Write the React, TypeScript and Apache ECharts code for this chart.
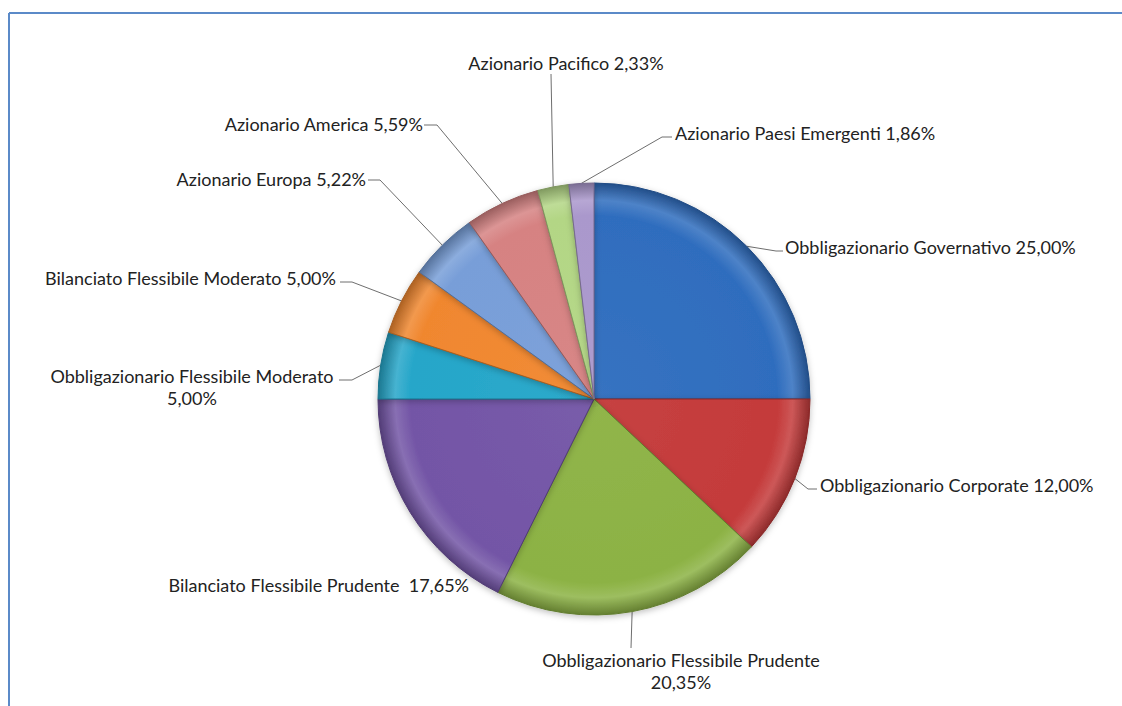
import React, { useEffect, useRef } from "react";
import * as echarts from "echarts";

const names = [
  "Obbligazionario Governativo",
  "Obbligazionario Corporate",
  "Obbligazionario Flessibile Prudente",
  "Bilanciato Flessibile Prudente",
  "Obbligazionario Flessibile Moderato",
  "Bilanciato Flessibile Moderato",
  "Azionario Europa",
  "Azionario America",
  "Azionario Pacifico",
  "Azionario Paesi Emergenti",
];
const values = [25.0, 12.0, 20.35, 17.65, 5.0, 5.0, 5.22, 5.59, 2.33, 1.86];
const colors = [
  "#2f6dbe",
  "#c43a3a",
  "#8cb244",
  "#7355a6",
  "#25a6c9",
  "#f0872f",
  "#789ed8",
  "#d68282",
  "#b3d685",
  "#aa98cc",
];
// label separator style: 0 = one line, 1 = two lines, 2 = double space
const labelStyle = [0, 0, 1, 2, 1, 0, 0, 0, 0, 0];

// layout of labels (page pixels): text anchor, alignment, leader elbow & end
const CX = 594;
const CY = 399;
const R = 216;
const labelLayoutTable = [
  { x: 785, y: 247, align: "left", elbow: [776, 251], end: [783, 251] },
  { x: 820, y: 485, align: "left", elbow: [808, 489], end: [817, 489] },
  { x: 681, y: 671, align: "center", elbow: [631, 648], end: [631, 648] },
  { x: 469, y: 585, align: "right", elbow: null, end: null },
  { x: 192, y: 387, align: "center", elbow: [352, 380], end: [339, 380] },
  { x: 336, y: 278, align: "right", elbow: [352, 282], end: [340, 282] },
  { x: 366, y: 179, align: "right", elbow: [380, 180], end: [368, 180] },
  { x: 423, y: 124, align: "right", elbow: [437, 125], end: [424, 125] },
  { x: 566, y: 63, align: "center", elbow: [551, 74], end: [551, 74] },
  { x: 675, y: 133, align: "left", elbow: [662, 137], end: [672, 137] },
];

function fmt(v: number) {
  return v.toFixed(2).replace(".", ",") + "%";
}

function shade(hex: string, f: number) {
  const n = parseInt(hex.slice(1), 16);
  let r = (n >> 16) & 255, g = (n >> 8) & 255, b = n & 255;
  if (f >= 0) {
    r = r + (255 - r) * f; g = g + (255 - g) * f; b = b + (255 - b) * f;
  } else {
    r = r * (1 + f); g = g * (1 + f); b = b * (1 + f);
  }
  return `rgb(${Math.round(r)},${Math.round(g)},${Math.round(b)})`;
}

export default function App() {
  const ref = useRef<HTMLDivElement>(null);
  useEffect(() => {
    if (!ref.current) return;
    const chart = echarts.init(ref.current, null, { renderer: "svg" });
    const total = values.reduce((a, b) => a + b, 0);
    const starts: number[] = [];
    let acc = 0;
    values.forEach((v) => { starts.push(acc); acc += v; });

    const data = names.map((n, i) => {
      const sep = labelStyle[i] === 1 ? "\n" : labelStyle[i] === 2 ? "  " : " ";
      const c = colors[i];
      return {
        name: n,
        value: values[i],
        labelText: n + sep + fmt(values[i]),
        itemStyle: {
          color: {
            type: "radial",
            x: CX,
            y: CY,
            r: R,
            global: true,
            colorStops: [
              { offset: 0, color: shade(c, 0.04) },
              { offset: 0.85, color: c },
              { offset: 0.92, color: shade(c, 0.15) },
              { offset: 1, color: shade(c, -0.28) },
            ],
          },
          borderColor: shade(c, -0.3),
          borderWidth: 1,
        },
        labelLine: { show: labelLayoutTable[i].end !== null },
      };
    });

    chart.setOption({
      animation: false,
      backgroundColor: "#ffffff",
      graphic: [
        {
          type: "line",
          shape: { x1: 9, y1: 13, x2: 1122, y2: 13 },
          style: { stroke: "#5b8ac8", lineWidth: 2 },
        },
        {
          type: "line",
          shape: { x1: 9, y1: 13, x2: 9, y2: 706 },
          style: { stroke: "#5b8ac8", lineWidth: 2 },
        },
      ],
      series: [
        {
          type: "pie",
          center: [CX, CY],
          radius: R,
          startAngle: 90,
          clockwise: true,
          data,
          itemStyle: {
            shadowBlur: 6,
            shadowColor: "rgba(0,0,0,0.25)",
            shadowOffsetY: 2,
          },
          label: {
            show: true,
            position: "outside",
            formatter: (p: any) => p.data.labelText,
            fontFamily: "Lato",
            fontSize: 18,
            color: "#222222",
            lineHeight: 22,
            align: "center",
          },
          labelLine: {
            show: true,
            length: 20,
            length2: 10,
            lineStyle: { color: "#6e6e6e", width: 1 },
          },
          labelLayout: (params: any) => {
            const i = params.dataIndex;
            const L = labelLayoutTable[i];
            let start: number[];
            if (params.labelLinePoints && params.labelLinePoints[0]) {
              start = params.labelLinePoints[0];
            } else {
              const mid = ((starts[i] + values[i] / 2) / total) * Math.PI * 2;
              start = [CX + R * Math.sin(mid), CY - R * Math.cos(mid)];
            }
            const res: any = {
              x: L.x,
              y: L.y,
              align: L.align,
              verticalAlign: "middle",
            };
            if (L.end) {
              res.labelLinePoints = [start, L.elbow, L.end];
            }
            return res;
          },
        },
      ],
    });
    return () => chart.dispose();
  }, []);
  return (
    <div
      ref={ref}
      style={{ position: "fixed", left: 0, top: 0, width: 1122, height: 706 }}
    />
  );
}
